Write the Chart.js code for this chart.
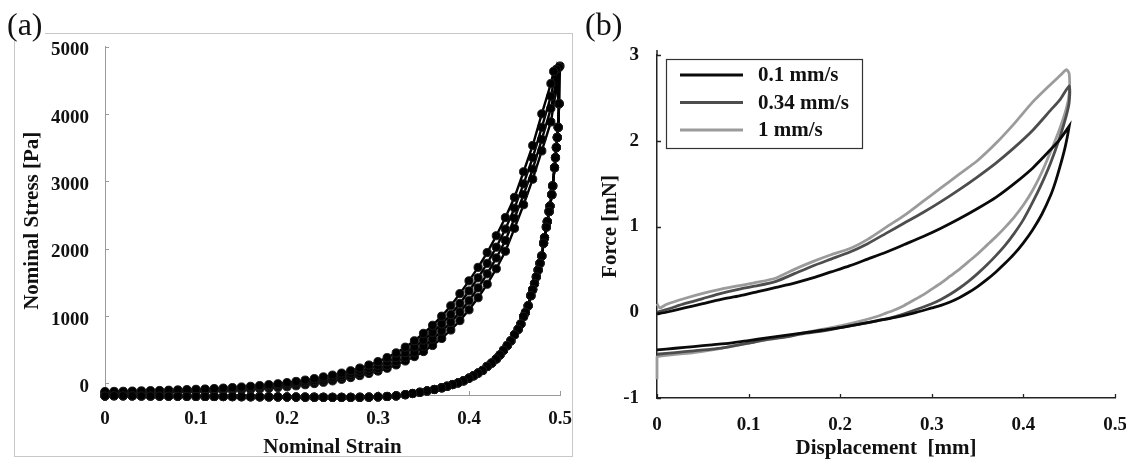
<!DOCTYPE html>
<html><head><meta charset="utf-8">
<script src="https://cdn.jsdelivr.net/npm/chart.js@4.4.0/dist/chart.umd.min.js"></script>
<style>
html,body{margin:0;padding:0;background:#fff;width:1126px;height:464px;overflow:hidden;position:relative;}
#frameA{position:absolute;left:14px;top:33px;width:557px;height:422px;border:1px solid #c8c8c8;}
.plabel{position:absolute;font-family:"Liberation Serif",serif;font-size:32px;line-height:32px;background:#fff;padding:0 2px 0 0;color:#111;}
#cA{position:absolute;left:0;top:0;}
#cB{position:absolute;left:575px;top:0;}
</style></head><body>
<div id="frameA"></div>
<canvas id="cA" width="575" height="464"></canvas>
<canvas id="cB" width="551" height="464"></canvas>
<div class="plabel" style="left:7px;top:8px">(a)</div>
<div class="plabel" style="left:585px;top:8px">(b)</div>
<script>
// ---------- Panel (a): Nominal stress vs nominal strain (4 cycles) ----------
const xTicksA = [0, 0.1, 0.2, 0.3, 0.4, 0.5];
const xTickLabelsA = ['0', '0.1', '0.2', '0.3', '0.4', '0.5'];
const yTicksA = [0, 1000, 2000, 3000, 4000, 5000];
const yTickLabelsA = ['0', '1000', '2000', '3000', '4000', '5000'];

const loadStrainA = [0,0.01,0.02,0.03,0.04,0.05,0.06,0.07,0.08,0.09,
  0.10,0.11,0.12,0.13,0.14,0.15,0.16,0.17,0.18,0.19,
  0.20,0.21,0.22,0.23,0.24,0.25,0.26,0.27,0.28,0.29,
  0.30,0.31,0.32,0.33,0.34,0.35,0.36,0.37,0.38,0.39,
  0.40,0.41,0.42,0.43,0.44,0.45,0.46,0.47,0.48,0.49];
const loadStress1 = [-125,-122,-120,-117,-114,-111,-108,-104,-100,-96,
  -91,-86,-80,-73,-65,-56,-46,-35,-22,-8,
  8,26,46,68,93,120,150,185,225,270,
  320,380,450,535,630,740,860,995,1150,1330,
  1520,1720,1940,2190,2460,2760,3140,3530,4000,4450];
const loadStress2 = [-132,-130,-128,-125,-122,-119,-116,-112,-108,-104,
  -100,-95,-90,-84,-77,-69,-60,-50,-39,-26,
  -12,4,22,42,64,88,115,146,181,221,
  266,318,380,455,540,640,755,880,1020,1185,
  1370,1565,1780,2020,2290,2600,2960,3350,3800,4260];
const loadStress3 = [-140,-138,-136,-133,-130,-128,-125,-122,-118,-114,
  -110,-106,-101,-96,-90,-83,-75,-66,-56,-44,
  -31,-16,0,18,38,60,84,111,142,177,
  218,265,320,385,460,550,655,775,905,1055,
  1225,1415,1625,1860,2120,2450,2800,3180,3620,4080];
const loadStress4 = [-148,-146,-144,-142,-140,-138,-135,-132,-129,-126,
  -123,-119,-115,-110,-105,-99,-92,-84,-75,-64,
  -52,-38,-22,-5,14,35,58,84,113,145,
  180,222,272,330,395,470,560,665,790,930,
  1090,1270,1470,1700,1960,2300,2650,3030,3450,3880];
const peakStrainA = [0.493, 0.496, 0.499, 0.5];
const peakStressA = [4630, 4660, 4690, 4710];

const unloadStrainA = [0.499,0.498,0.497,0.496,0.495,0.494,0.492,0.491,0.489,0.488,
  0.486,0.485,0.483,0.482,0.480,0.478,0.476,0.474,0.472,0.470,
  0.468,0.465,0.462,0.460,0.457,0.454,0.450,0.446,0.442,0.438,
  0.434,0.430,0.425,0.420,0.415,0.410,0.405,0.400,0.394,0.388,
  0.382,0.376,0.370,0.362,0.354,0.346,0.338,0.330,0.320,0.310,
  0.300,0.290,0.280,0.270,0.260,0.250,0.240,0.230,0.220,0.210,
  0.200,0.190,0.180,0.170,0.160,0.150,0.140,0.130,0.120,0.110,
  0.100,0.090,0.080,0.070,0.060,0.050,0.040,0.030,0.020,0.010,0.000];
const unloadStressA = [4150,3800,3650,3500,3350,3200,2930,2800,2630,2550,
  2400,2320,2160,2080,1890,1780,1680,1580,1480,1390,
  1300,1150,1050,990,880,800,720,630,560,490,
  420,360,300,250,190,150,110,75,35,5,
  -20,-45,-68,-93,-115,-135,-153,-170,-188,-197,
  -203,-207,-209,-210,-210,-210,-209,-208,-207,-206,
  -205,-204,-203,-202,-201,-200,-199,-198,-197,-196,
  -195,-194,-193,-192,-191,-190,-189,-188,-187,-186,-190];

const loadsA = [loadStress1, loadStress2, loadStress3, loadStress4];

// ---------- Panel (b): Force vs displacement at three speeds ----------
const xTicksB = [0, 0.1, 0.2, 0.3, 0.4, 0.5];
const xTickLabelsB = ['0', '0.1', '0.2', '0.3', '0.4', '0.5'];
const yTicksB = [-1, 0, 1, 2, 3];
const yTickLabelsB = ['-1', '0', '1', '2', '3'];
const seriesNamesB = ['0.1 mm/s', '0.34 mm/s', '1 mm/s'];

const dispB_slow = [0,0.01,0.03,0.05,0.07,0.09,0.11,0.13,0.15,0.17,0.19,0.21,0.23,0.25,0.27,0.29,0.31,0.33,0.35,0.37,0.39,0.41,0.43,0.44,0.45,
  0.45,0.448,0.445,0.44,0.435,0.43,0.42,0.41,0.40,0.39,0.38,0.37,0.36,0.35,0.34,0.33,0.32,0.31,0.30,0.28,0.26,0.24,0.22,0.20,0.18,0.16,0.14,0.12,0.10,0.08,0.06,0.04,0.02,0];
const forceB_slow = [-0.02,0.0,0.05,0.10,0.15,0.19,0.24,0.29,0.34,0.40,0.47,0.54,0.62,0.70,0.79,0.88,0.98,1.09,1.21,1.34,1.50,1.68,1.90,2.02,2.17,
  2.17,2.05,1.90,1.70,1.52,1.37,1.14,0.96,0.81,0.68,0.57,0.47,0.38,0.30,0.23,0.17,0.12,0.08,0.05,-0.01,-0.06,-0.10,-0.14,-0.18,-0.21,-0.24,-0.27,-0.30,-0.33,-0.36,-0.38,-0.40,-0.42,-0.44];

const dispB_mid = [0,0.01,0.03,0.05,0.07,0.09,0.11,0.13,0.15,0.17,0.19,0.21,0.23,0.25,0.27,0.29,0.31,0.33,0.35,0.37,0.39,0.41,0.43,0.44,0.45,
  0.45,0.447,0.44,0.43,0.42,0.41,0.40,0.39,0.38,0.37,0.36,0.35,0.34,0.33,0.32,0.31,0.30,0.28,0.26,0.24,0.22,0.20,0.18,0.16,0.14,0.12,0.10,0.08,0.06,0.04,0.02,0];
const forceB_mid = [0.0,0.03,0.10,0.16,0.22,0.27,0.31,0.36,0.45,0.54,0.62,0.70,0.80,0.92,1.04,1.16,1.29,1.43,1.58,1.74,1.92,2.12,2.36,2.48,2.64,
  2.45,2.30,2.05,1.75,1.50,1.28,1.08,0.92,0.78,0.66,0.55,0.45,0.36,0.28,0.21,0.15,0.10,0.02,-0.05,-0.10,-0.14,-0.18,-0.22,-0.25,-0.29,-0.32,-0.36,-0.40,-0.43,-0.45,-0.47,-0.49];

const dispB_fast = [0,0.003,0.01,0.03,0.05,0.07,0.09,0.11,0.13,0.15,0.17,0.19,0.21,0.23,0.25,0.27,0.29,0.31,0.33,0.35,0.37,0.39,0.41,0.43,0.44,0.447,0.45,
  0.45,0.447,0.44,0.43,0.42,0.41,0.40,0.39,0.38,0.37,0.36,0.35,0.34,0.33,0.32,0.31,0.30,0.29,0.28,0.27,0.26,0.25,0.24,0.22,0.20,0.18,0.16,0.14,0.12,0.10,0.08,0.06,0.04,0.02,0.005,0,0];
const forceB_fast = [0.10,0.05,0.09,0.16,0.22,0.27,0.31,0.35,0.40,0.50,0.59,0.67,0.74,0.85,0.99,1.13,1.29,1.45,1.61,1.77,1.97,2.20,2.45,2.66,2.76,2.83,2.78,
  2.55,2.38,2.15,1.88,1.63,1.42,1.25,1.11,0.99,0.88,0.78,0.68,0.59,0.50,0.42,0.34,0.27,0.20,0.14,0.08,0.03,-0.01,-0.05,-0.11,-0.16,-0.20,-0.24,-0.28,-0.32,-0.36,-0.40,-0.44,-0.47,-0.49,-0.51,-0.52,-0.78];

const colorsB = ['#0a0a0a', '#4d4d4d', '#9b9b9b'];

// ---------- helpers ----------
const SERIF = '"Liberation Serif", "Times New Roman", serif';
const toPts = (xs, ys) => xs.map((x, i) => ({x: x, y: ys[i]}));

const innerTicks = (color, width, len) => ({
  id: 'innerTicks',
  beforeDatasetsDraw(chart) {
    const {ctx, chartArea: a, scales: {x, y}} = chart;
    ctx.save();
    ctx.strokeStyle = color; ctx.lineWidth = width;
    ctx.beginPath();
    x.ticks.forEach(t => {
      const px = Math.round(x.getPixelForValue(t.value)) + 0.5;
      ctx.moveTo(px, a.bottom); ctx.lineTo(px, a.bottom - len);
    });
    y.ticks.forEach(t => {
      const py = Math.round(y.getPixelForValue(t.value)) + 0.5;
      ctx.moveTo(a.left, py); ctx.lineTo(a.left + len, py);
    });
    ctx.stroke();
    ctx.restore();
  }
});

function fixSize(prop, val) {
  return s => {
    s[prop] = val;
    s.paddingLeft = 0; s.paddingRight = 0; s.paddingTop = 0; s.paddingBottom = 0;
  };
}

// ---------- Chart (a) ----------
const datasetsA = loadsA.map((ld, i) => ({
  label: 'cycle ' + (i + 1),
  data: toPts(loadStrainA, ld)
    .concat([{x: peakStrainA[i], y: peakStressA[i]}])
    .concat(toPts(unloadStrainA, unloadStressA)),
  showLine: true,
  borderColor: '#000',
  borderWidth: 2.4,
  pointRadius: 4.1,
  pointBackgroundColor: '#000',
  pointBorderColor: '#1a1a1a',
  pointBorderWidth: 1,
  clip: false
}));

new Chart(document.getElementById('cA'), {
  type: 'scatter',
  data: {datasets: datasetsA},
  options: {
    responsive: false, animation: false,
    layout: {padding: {left: 0, right: 15, top: 46.5, bottom: 0}},
    plugins: {legend: {display: false}, tooltip: {enabled: false}},
    scales: {
      x: {
        type: 'linear', min: 0, max: 0.5,
        afterFit: fixSize('height', 69),
        afterBuildTicks: s => { s.ticks = xTicksA.map(v => ({value: v})); },
        grid: {display: false},
        border: {display: true, color: '#9a9a9a', width: 1},
        ticks: {padding: 5, color: '#111', autoSkip: false, maxRotation: 0,
          font: {family: SERIF, size: 19, weight: 'bold'},
          callback: (v, i) => xTickLabelsA[i]},
        title: {display: true, text: 'Nominal Strain', color: '#111',
          font: {family: SERIF, size: 21, weight: 'bold'}, padding: {top: 0, bottom: 4}}
      },
      y: {
        type: 'linear', min: -175, max: 5000,
        afterFit: fixSize('width', 105),
        afterBuildTicks: s => { s.ticks = yTicksA.map(v => ({value: v})); },
        grid: {display: false},
        border: {display: true, color: '#9a9a9a', width: 1},
        ticks: {padding: 8, labelOffset: 4, color: '#111', autoSkip: false,
          font: {family: SERIF, size: 19, weight: 'bold'},
          callback: (v, i) => yTickLabelsA[i]},
        title: {display: true, text: 'Nominal Stress [Pa]', color: '#111',
          font: {family: SERIF, size: 21, weight: 'bold'}, padding: {top: 20, bottom: 0}}
      }
    }
  },
  plugins: [innerTicks('#9a9a9a', 1, 4)]
});

// ---------- Chart (b) ----------
const boxLegend = {
  id: 'boxLegend',
  afterDraw(chart) {
    const {ctx, chartArea: a} = chart;
    const bx = a.left + 9, by = a.top + 4, bw = 196, bh = 89;
    ctx.save();
    ctx.fillStyle = '#fff';
    ctx.fillRect(bx, by, bw, bh);
    ctx.strokeStyle = '#333'; ctx.lineWidth = 1.2;
    ctx.strokeRect(bx + 0.5, by + 0.5, bw, bh);
    chart.data.datasets.forEach((ds, i) => {
      const yy = by + 16 + i * 27.5;
      ctx.strokeStyle = ds.borderColor; ctx.lineWidth = 3.2;
      ctx.beginPath(); ctx.moveTo(bx + 14, yy); ctx.lineTo(bx + 77, yy); ctx.stroke();
      ctx.fillStyle = '#111';
      ctx.font = 'bold 21px ' + SERIF;
      ctx.textBaseline = 'middle'; ctx.textAlign = 'left';
      ctx.fillText(ds.label, bx + 92, yy + 1);
    });
    ctx.restore();
  }
};

const datasetsB = [
  {label: seriesNamesB[0], data: toPts(dispB_slow, forceB_slow), borderColor: colorsB[0]},
  {label: seriesNamesB[1], data: toPts(dispB_mid, forceB_mid), borderColor: colorsB[1]},
  {label: seriesNamesB[2], data: toPts(dispB_fast, forceB_fast), borderColor: colorsB[2]}
].map(d => Object.assign(d, {showLine: true, borderWidth: 2.8, pointRadius: 0, tension: 0.2, clip: false}));

// y-axis line of panel (b) runs slightly above the top tick, as in the original
const axisExtend = {
  id: 'axisExtend',
  afterDraw(chart) {
    const {ctx, chartArea: a} = chart;
    ctx.save();
    ctx.strokeStyle = '#222'; ctx.lineWidth = 1.5;
    ctx.beginPath(); ctx.moveTo(a.left, a.top); ctx.lineTo(a.left, a.top - 5); ctx.stroke();
    ctx.restore();
  }
};

new Chart(document.getElementById('cB'), {
  type: 'scatter',
  data: {datasets: datasetsB},
  options: {
    responsive: false, animation: false,
    layout: {padding: {left: 0, right: 11, top: 55, bottom: 0}},
    plugins: {legend: {display: false}, tooltip: {enabled: false}},
    scales: {
      x: {
        type: 'linear', min: 0, max: 0.5,
        afterFit: fixSize('height', 66),
        afterBuildTicks: s => { s.ticks = xTicksB.map(v => ({value: v})); },
        grid: {display: false},
        border: {display: true, color: '#222', width: 1.5},
        ticks: {padding: 8, color: '#111', autoSkip: false, maxRotation: 0,
          font: {family: SERIF, size: 19, weight: 'bold'},
          callback: (v, i) => xTickLabelsB[i]},
        title: {display: true, text: 'Displacement  [mm]', color: '#111',
          font: {family: SERIF, size: 21, weight: 'bold'}, padding: {top: 0, bottom: 3}}
      },
      y: {
        type: 'linear', min: -1, max: 3,
        afterFit: fixSize('width', 82),
        afterBuildTicks: s => { s.ticks = yTicksB.map(v => ({value: v})); },
        grid: {display: false},
        border: {display: true, color: '#222', width: 1.5},
        ticks: {padding: 10, color: '#111', autoSkip: false,
          font: {family: SERIF, size: 19, weight: 'bold'},
          callback: (v, i) => yTickLabelsB[i]},
        title: {display: true, text: 'Force [mN]', color: '#111',
          font: {family: SERIF, size: 21, weight: 'bold'}, padding: {top: 23, bottom: 0}}
      }
    }
  },
  plugins: [innerTicks('#222', 1.3, 4), boxLegend, axisExtend]
});
</script>
</body></html>
